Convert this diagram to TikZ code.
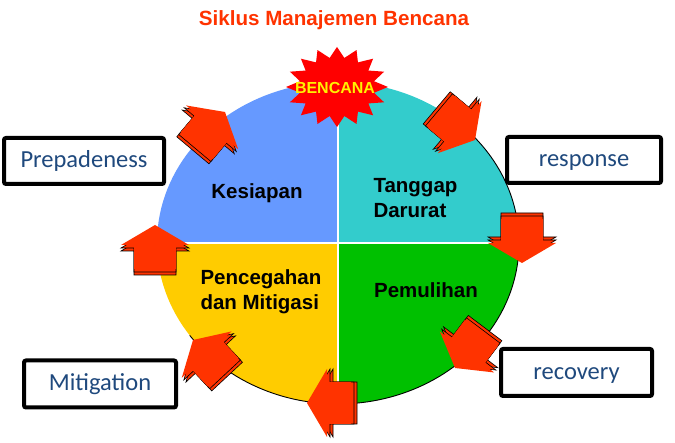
\documentclass[tikz,border=0pt]{standalone}
\usepackage{fontspec}
\setmainfont{Liberation Sans}
\newfontfamily\boxfont{Carlito}
\usepackage{tikz}

\definecolor{titlered}{RGB}{255,51,0}
\definecolor{arrowred}{RGB}{255,51,0}
\definecolor{quadblue}{RGB}{102,153,255}
\definecolor{quadteal}{RGB}{51,204,204}
\definecolor{quadgold}{RGB}{255,204,0}
\definecolor{quadgreen}{RGB}{0,192,0}
\definecolor{boxblue}{RGB}{31,73,125}

\tikzset{
  blockarrow/.pic={
    \foreach \d in {6,3}
      \filldraw[fill=arrowred, draw=black, line width=0.6pt, shift={(-\d,0)}]
        (0,0) -- (-20,34) -- (-20,21) -- (-44,21) -- (-44,-21) -- (-20,-21) -- (-20,-34) -- cycle;
    \fill[arrowred] (0,0) -- (-20,34) -- (-20,21) -- (-44,21) -- (-44,-21) -- (-20,-21) -- (-20,-34) -- cycle;
  }
}

\begin{document}
\begin{tikzpicture}[x=1pt, y=1pt,
    quadlabel/.style={font=\fontsize{20.5}{25}\selectfont\bfseries, align=left},
    namebox/.style={draw, line width=4pt, rounded corners=2pt, text=boxblue,
      font=\boxfont\fontsize{24.5}{28}\selectfont, inner sep=0pt,
      text height=17pt, text depth=3pt}]
    \useasboundingbox (0,0) rectangle (675,443);

    % title
    \node (title) at (334,423) [text=titlered] {\fontsize{20.6}{24}\selectfont\bfseries Siklus Manajemen Bencana};

    % the cycle
    \coordinate (c) at (338,200);
    \fill[quadblue] (c) -- ++(-181,0) arc[start angle=180, end angle=90, x radius=181, y radius=161] -- cycle;
    \fill[quadteal] (c) -- ++(0,161) arc[start angle=90, end angle=0, x radius=181, y radius=161] -- cycle;
    \fill[quadgreen] (c) -- ++(181,0) arc[start angle=0, end angle=-90, x radius=181, y radius=161] -- cycle;
    \fill[quadgold] (c) -- ++(0,-161) arc[start angle=-90, end angle=-180, x radius=181, y radius=161] -- cycle;
    \draw [white, line width=1.2pt] (c) +(0,161) -- +(0,-161);
    \draw [white, line width=1.2pt] (c) +(-181,0) -- +(181,0);
    \draw [line width=0.9pt] (c) ++(45:181 and 161) arc[start angle=45, end angle=-145, x radius=181, y radius=161];

    % arrows round the cycle
    \foreach \x/\y/\a in {225/331/50, 475/303/-40, 522/180/-90, 455/75/-127,
                          307/40/180, 193/103/133, 155/218/90}
      \pic [rotate=\a] at (\x,\y) {blockarrow};

    % disaster burst
    \begin{scope}[shift={(337,356)}]
      \fill[red] (90:51 and 40)
        \foreach \i [evaluate=\i as \r using {mod(\i,2)==0 ? 1 : 0.74}] in {1,...,31} {
          -- ({90+11.25*\i}:{51*\r} and {40*\r})
        } -- cycle;
    \end{scope}
    \node (bencana) at (335,355) [text=yellow] {\fontsize{16}{18}\selectfont\bfseries BENCANA};

    % quadrant labels
    \node (kesiapan) at (257,250) [quadlabel] {Kesiapan};
    \node (tanggap) at (370,245) [quadlabel, anchor=west] {Tanggap\\Darurat};
    \node (pencegahan) at (197,151) [quadlabel, anchor=west] {Pencegahan\\dan Mitigasi};
    \node (pemulihan) at (426,153) [quadlabel] {Pemulihan};

    % phase boxes
    \node (prep) at (84,282) [namebox, minimum width=160pt, minimum height=46pt] {Prepadeness};
    \node (resp) at (584,283) [namebox, minimum width=154pt, minimum height=46pt] {response};
    \node (mitig) at (100,59) [namebox, minimum width=152pt, minimum height=47pt] {Mitigation};
    \node (recov) at (576.5,70.5) [namebox, minimum width=151pt, minimum height=47pt] {recovery};
\end{tikzpicture}
\end{document}
